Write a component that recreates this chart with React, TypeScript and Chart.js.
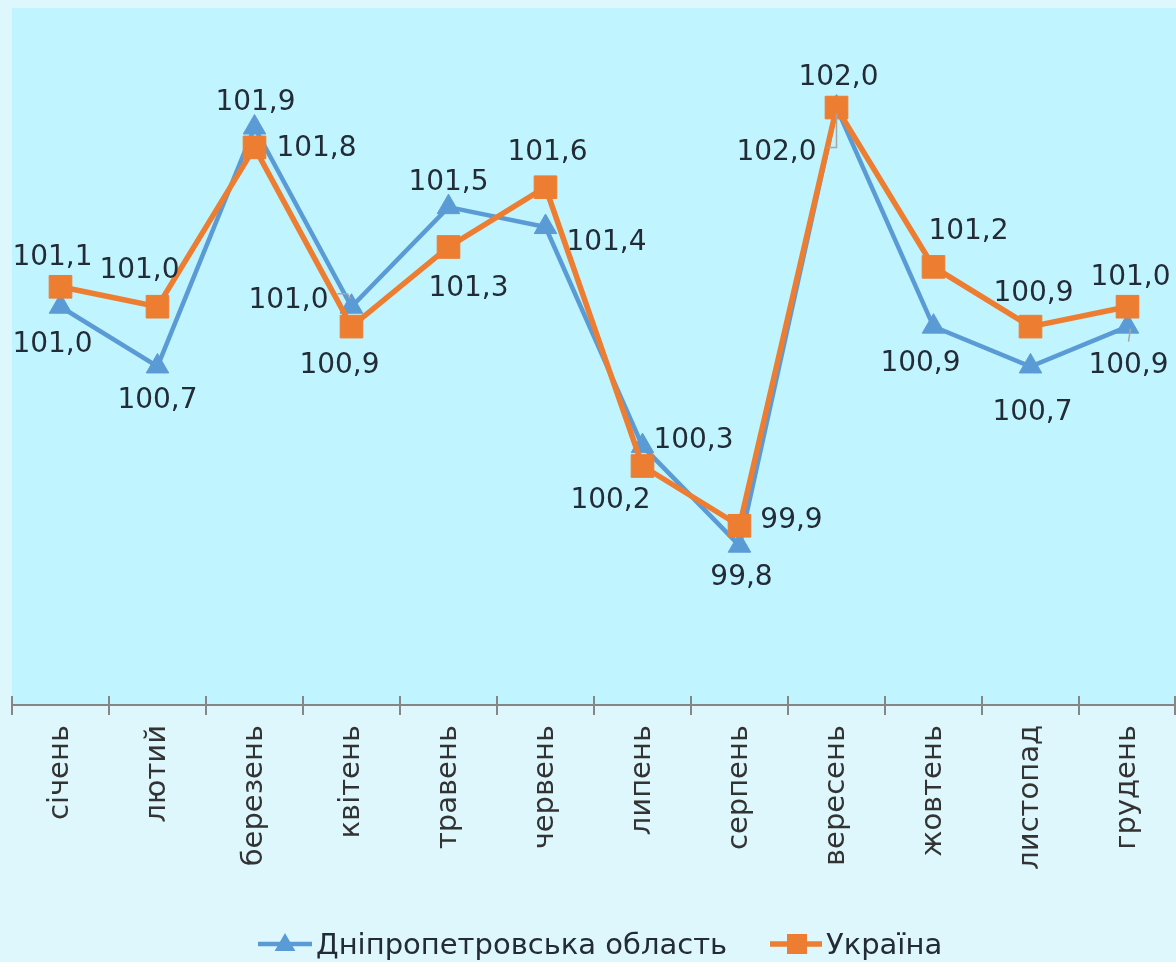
import React, { useEffect, useRef } from 'react';
import { Chart, registerables } from 'chart.js';

Chart.register(...registerables);

const months = ['січень', 'лютий', 'березень', 'квітень', 'травень', 'червень', 'липень', 'серпень', 'вересень', 'жовтень', 'листопад', 'грудень'];
const dnipro = [101.0, 100.7, 101.9, 101.0, 101.5, 101.4, 100.3, 99.8, 102.0, 100.9, 100.7, 100.9];
const ukraine = [101.1, 101.0, 101.8, 100.9, 101.3, 101.6, 100.2, 99.9, 102.0, 101.2, 100.9, 101.0];
const seriesNames = ['Дніпропетровська область', 'Україна'];
const yMin = 99;
const yMax = 102.5;

// data-label placement relative to each point (layout only)
const dniproLabelOffsets = [[-8, 35], [0, 32], [1, -27], [-63, -9], [0, -27], [61, 13], [51, -8], [2, 29], [-60, 42], [-13, 34], [2, 44], [1, 36]];
const ukraineLabelOffsets = [[-8, -32], [-18, -39], [62, -1], [-12, 36], [20, 39], [2, -37], [-32, 32], [52, -8], [2, -33], [35, -38], [3, -36], [3, -32]];

const BLUE = '#5B9BD5';
const ORANGE = '#ED7D31';
const TEXT = '#222b36';
const FONT = '"DejaVu Sans", Verdana, sans-serif';

const fmt = (v: number) => v.toFixed(1).replace('.', ',');

const bgPlugin = {
  id: 'bgPlugin',
  beforeDraw(chart: any) {
    const { ctx, chartArea: a, width, height } = chart;
    ctx.save();
    ctx.fillStyle = '#DDF7FD';
    ctx.fillRect(0, 0, width, height);
    ctx.fillStyle = '#C0F4FE';
    ctx.fillRect(a.left, a.top, a.right - a.left, a.bottom - a.top);
    ctx.restore();
  },
  afterDraw(chart: any) {
    const { ctx, chartArea: a } = chart;
    const n = months.length;
    const w = (a.right - a.left) / n;
    ctx.save();
    ctx.strokeStyle = '#868686';
    ctx.lineWidth = 2;
    for (let i = 0; i <= n; i++) {
      const x = Math.min(a.left + i * w, a.right - 1);
      ctx.beginPath();
      ctx.moveTo(x, a.bottom - 9);
      ctx.lineTo(x, a.bottom + 10);
      ctx.stroke();
    }
    ctx.restore();
  },
};

const labelPlugin = {
  id: 'labelPlugin',
  afterDatasetsDraw(chart: any) {
    const { ctx } = chart;
    const offsets = [dniproLabelOffsets, ukraineLabelOffsets];
    ctx.save();
    // leader lines for a few displaced labels
    const m0 = chart.getDatasetMeta(0).data;
    ctx.strokeStyle = '#a6a6a6';
    ctx.lineWidth = 1.5;
    const sep = m0[8];
    ctx.beginPath();
    ctx.moveTo(sep.x, sep.y + 6);
    ctx.lineTo(sep.x, sep.y + 40);
    ctx.lineTo(sep.x - 9, sep.y + 40);
    ctx.stroke();
    const apr = m0[3];
    ctx.beginPath();
    ctx.moveTo(apr.x - 14, apr.y - 13);
    ctx.lineTo(apr.x - 4, apr.y - 13);
    ctx.lineTo(apr.x - 1, apr.y - 8);
    ctx.stroke();
    const dec = m0[11];
    ctx.beginPath();
    ctx.moveTo(dec.x + 3, dec.y + 2);
    ctx.lineTo(dec.x + 1, dec.y + 15);
    ctx.stroke();

    ctx.font = `28px ${FONT}`;
    ctx.fillStyle = TEXT;
    ctx.textAlign = 'center';
    ctx.textBaseline = 'alphabetic';
    chart.data.datasets.forEach((ds: any, di: number) => {
      const meta = chart.getDatasetMeta(di);
      meta.data.forEach((pt: any, i: number) => {
        const [dx, dy] = offsets[di][i];
        ctx.fillText(fmt(ds.data[i]), pt.x + dx, pt.y + dy + 10);
      });
    });
    ctx.restore();
  },
};

function drawTriangle(ctx: CanvasRenderingContext2D, x: number, y: number, r: number) {
  ctx.beginPath();
  ctx.moveTo(x, y - r);
  ctx.lineTo(x + r * 0.866, y + r * 0.5);
  ctx.lineTo(x - r * 0.866, y + r * 0.5);
  ctx.closePath();
  ctx.fill();
}

const legendPlugin = {
  id: 'legendPlugin',
  afterDraw(chart: any) {
    const { ctx } = chart;
    const y = 944;
    ctx.save();
    ctx.lineCap = 'butt';
    ctx.strokeStyle = BLUE;
    ctx.fillStyle = BLUE;
    ctx.lineWidth = 4.5;
    ctx.beginPath();
    ctx.moveTo(258, y);
    ctx.lineTo(312, y);
    ctx.stroke();
    drawTriangle(ctx, 285, y + 1, 12);
    ctx.strokeStyle = ORANGE;
    ctx.fillStyle = ORANGE;
    ctx.lineWidth = 5.5;
    ctx.beginPath();
    ctx.moveTo(770, y);
    ctx.lineTo(822, y);
    ctx.stroke();
    ctx.fillRect(797 - 10, y - 10, 20, 20);
    ctx.font = `29px ${FONT}`;
    ctx.fillStyle = TEXT;
    ctx.textAlign = 'left';
    ctx.textBaseline = 'alphabetic';
    ctx.fillText(seriesNames[0], 316, y + 10);
    ctx.fillText(seriesNames[1], 826, y + 10);
    ctx.restore();
  },
};

export default function App() {
  const ref = useRef<HTMLCanvasElement | null>(null);
  useEffect(() => {
    document.body.style.margin = '0';
    if (!ref.current) return;
    const chart = new Chart(ref.current, {
      type: 'line',
      data: {
        labels: months,
        datasets: [
          {
            label: seriesNames[0],
            data: dnipro,
            borderColor: BLUE,
            backgroundColor: BLUE,
            borderWidth: 4.5,
            pointStyle: 'triangle',
            pointRadius: 13,
            pointHoverRadius: 13,
            pointBorderWidth: 1,
            pointBackgroundColor: BLUE,
            pointBorderColor: BLUE,
            tension: 0,
            order: 1,
          },
          {
            label: seriesNames[1],
            data: ukraine,
            borderColor: ORANGE,
            backgroundColor: ORANGE,
            borderWidth: 5.5,
            pointStyle: 'rect',
            pointRadius: 16,
            pointHoverRadius: 16,
            pointBorderWidth: 1,
            pointBackgroundColor: ORANGE,
            pointBorderColor: ORANGE,
            tension: 0,
            order: 0,
          },
        ],
      },
      options: {
        responsive: false,
        animation: false,
        devicePixelRatio: 1,
        layout: { autoPadding: false, padding: { left: 12, top: 8, right: 0, bottom: 0 } },
        plugins: {
          legend: { display: false },
          tooltip: { enabled: false },
        },
        scales: {
          x: {
            type: 'category',
            offset: true,
            grid: { display: false, drawTicks: false },
            border: { display: true, color: '#868686', width: 2 },
            ticks: {
              minRotation: 90,
              maxRotation: 90,
              autoSkip: false,
              padding: 20,
              color: '#333333',
              font: { family: FONT, size: 29 },
            },
            afterFit: (scale: any) => {
              scale.height = 257;
              scale.paddingLeft = 0;
              scale.paddingRight = 0;
            },
          },
          y: {
            display: false,
            min: yMin,
            max: yMax,
          },
        },
      },
      plugins: [bgPlugin, labelPlugin, legendPlugin],
    });
    return () => chart.destroy();
  }, []);
  return (
    <div style={{ position: 'absolute', left: 0, top: 0, width: 1176, height: 962 }}>
      <canvas ref={ref} width={1176} height={962} />
    </div>
  );
}
